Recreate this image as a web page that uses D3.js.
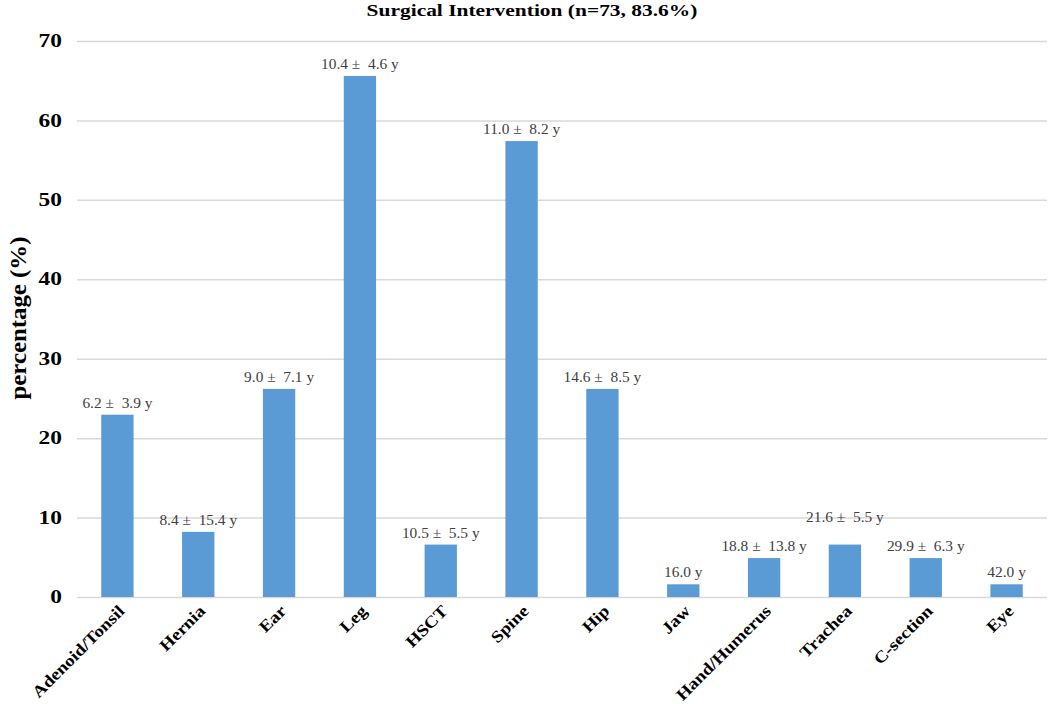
<!DOCTYPE html>
<html>
<head>
<meta charset="utf-8">
<script src="https://cdn.jsdelivr.net/npm/d3@7"></script>
<style>
  html, body { margin: 0; padding: 0; background: #fff; }
  svg { display: block; }
  text { font-family: "Liberation Serif", "Times New Roman", serif; }
</style>
</head>
<body>
<svg id="chart" width="1050" height="704"></svg>
<script>
// ---- data ----
const categories = ["Adenoid/Tonsil", "Hernia", "Ear", "Leg", "HSCT", "Spine", "Hip", "Jaw", "Hand/Humerus", "Trachea", "C-section", "Eye"];
const percentages = [22.95, 8.2, 26.2, 65.6, 6.6, 57.4, 26.2, 1.6, 4.9, 6.6, 4.9, 1.6];
const ageLabels = ["6.2 \u00b1  3.9 y", "8.4 \u00b1  15.4 y", "9.0 \u00b1  7.1 y", "10.4 \u00b1  4.6 y", "10.5 \u00b1  5.5 y", "11.0 \u00b1  8.2 y", "14.6 \u00b1  8.5 y", "16.0 y", "18.8 \u00b1  13.8 y", "21.6 \u00b1  5.5 y", "29.9 \u00b1  6.3 y", "42.0 y"];
const yTicks = [0, 10, 20, 30, 40, 50, 60, 70];
const chartTitle = "Surgical Intervention (n=73, 83.6%)";
const yTitle = "percentage (%)";

// ---- layout ----
const svg = d3.select("#chart");
const plotLeft = 77, plotRight = 1047, plotTop = 41, plotBottom = 597;
const barColor = "#5b9bd5";
const gridColor = "#d9d9d9";

const x = d3.scaleBand().domain(categories).range([plotLeft, plotRight]).paddingInner(0.6).paddingOuter(0.3);
const y = d3.scaleLinear().domain([0, 70]).range([plotBottom, plotTop]);

// gridlines
svg.append("g").selectAll("line").data(yTicks).join("line")
  .attr("x1", plotLeft).attr("x2", plotRight)
  .attr("y1", d => y(d) + 0.5).attr("y2", d => y(d) + 0.5)
  .attr("stroke", gridColor).attr("stroke-width", 1.5);

// y axis tick labels
const yAxis = d3.axisLeft(y).tickValues(yTicks).tickSize(0).tickPadding(0).tickFormat(d3.format("d"));
const gy = svg.append("g").attr("transform", `translate(62,0)`).call(yAxis);
gy.select(".domain").remove();
gy.selectAll(".tick").attr("transform", null);
gy.selectAll("text")
  .attr("font-family", "Liberation Serif, serif")
  .attr("font-weight", "bold")
  .attr("font-size", 18)
  .attr("fill", "#000")
  .attr("x", 0)
  .attr("dy", "0.34em")
  .attr("transform", d => `translate(0,${y(d)}) scale(1.3,1)`);

// bars
svg.append("g").selectAll("rect").data(categories).join("rect")
  .attr("x", d => x(d))
  .attr("width", x.bandwidth())
  .attr("y", (d, i) => y(percentages[i]))
  .attr("height", (d, i) => y(0) - y(percentages[i]))
  .attr("fill", barColor);

// value labels
svg.append("g").selectAll("text").data(categories).join("text")
  .attr("transform", (d, i) => {
    const cx = x(d) + x.bandwidth() / 2;
    const lift = d === "Trachea" ? 23 : 7;
    return `translate(${cx},${y(percentages[i]) - lift}) scale(1.1,1)`;
  })
  .attr("text-anchor", "middle")
  .attr("font-size", 14)
  .attr("fill", "#404040")
  .style("white-space", "pre")
  .text((d, i) => ageLabels[i]);

// x category labels
svg.append("g").selectAll("text").data(categories).join("text")
  .attr("transform", d => `translate(${x(d) + x.bandwidth() / 2 + 8},${plotBottom + 15}) rotate(-45) scale(1.15,1)`)
  .attr("text-anchor", "end")
  .attr("font-weight", "bold")
  .attr("font-size", 16.5)
  .attr("fill", "#000")
  .text(d => d);

// title
svg.append("text")
  .attr("transform", "translate(532,16) scale(1.3,1)")
  .attr("text-anchor", "middle")
  .attr("font-weight", "bold")
  .attr("font-size", 16.5)
  .attr("fill", "#000")
  .text(chartTitle);

// y title
svg.append("text")
  .attr("transform", "translate(26,318) rotate(-90) scale(1.08,1)")
  .attr("text-anchor", "middle")
  .attr("font-weight", "bold")
  .attr("font-size", 23)
  .attr("fill", "#000")
  .text(yTitle);
</script>
</body>
</html>
